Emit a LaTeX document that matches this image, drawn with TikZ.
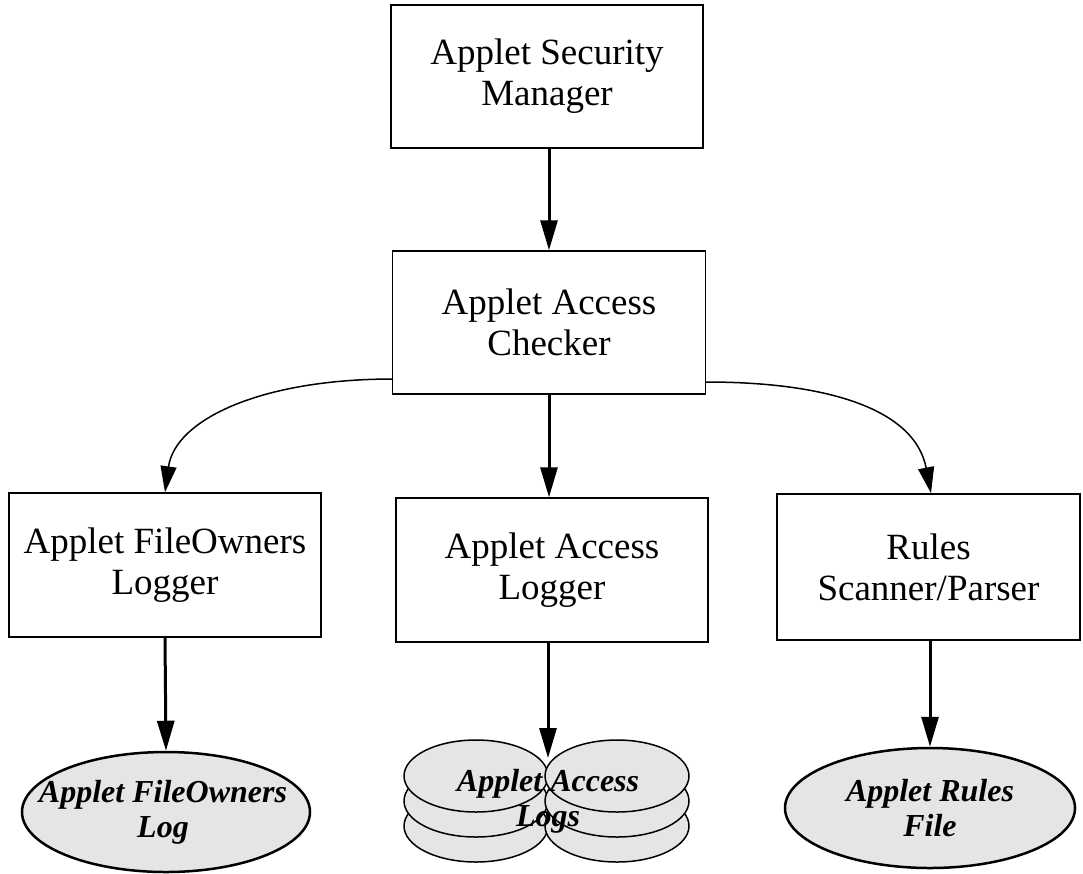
\documentclass[tikz,border=0pt]{standalone}
\usepackage{fontspec}
\setmainfont{Liberation Serif}
\usetikzlibrary{arrows.meta,shapes.geometric}

\tikzset{
  box/.style={draw, line width=1.5pt, rectangle, align=center, inner sep=0pt,
    font={\fontsize{37}{41}\selectfont}},
  store/.style={draw, line width=2.5pt, ellipse, fill=black!10, inner sep=0pt},
  storelabel/.style={align=center, inner sep=0pt,
    font={\fontsize{32}{35}\selectfont\bfseries\itshape}},
  disk/.style={draw, line width=1.5pt, fill=black!10},
  bigarrow/.style={line width=3pt, -{Triangle[length=30pt,width=17pt]}},
  bendarrow/.style={line width=1.5pt, -{Triangle[length=26pt,width=16pt]}}
}

\begin{document}
\begin{tikzpicture}[x=1pt, y=-1pt]
  \useasboundingbox (0,0) rectangle (1083,873);

  % component boxes
  \node[box, minimum width=312pt, minimum height=143pt] (sec) at (547,76.5) {Applet Security\\Manager};
  \node[box, minimum width=313pt, minimum height=143pt] (chk) at (549,322.5) {Applet Access\\Checker};
  \node[box, minimum width=312pt, minimum height=144pt] (fol) at (165,565) {Applet FileOwners\\Logger};
  \node[box, minimum width=312pt, minimum height=144pt] (acl) at (552,570) {Applet Access\\Logger};
  \node[box, minimum width=303pt, minimum height=146pt] (rsp) at (928.5,567) {Rules\\Scanner/Parser};

  % data stores
  \node[store, minimum width=288pt, minimum height=120pt] (folog) at (166,812) {};
  \node[storelabel] (fologtext) at (163,812) {Applet FileOwners\\Log};
  \node[store, minimum width=290pt, minimum height=120pt] (rules) at (930,808) {};
  \node[storelabel] (rulestext) at (930,808) {Applet Rules\\File};

  % stacked disks for the access logs
  \foreach \cx in {476,617} {
    \foreach \cy in {826,801,776} {
      \draw[disk] (\cx,\cy) ellipse [x radius=72pt, y radius=36pt];
    }
  }
  \coordinate (logs) at (548,758);
  \node[storelabel] (logtext) at (548,801) {Applet Access\\Logs};

  % connectors
  \coordinate (chkW) at (393,379);
  \coordinate (chkE) at (706,382);
  \draw[bigarrow] (sec.south -| chk.north) -- (chk.north);
  \draw[bigarrow] (chk.south) -- (acl.north -| chk.south);
  \draw[bendarrow] (chkW) .. controls (260,379) and (175,420) .. (fol.north);
  \draw[bendarrow] (chkE) .. controls (830,382) and (915,410) .. (rsp.north -| 931,0);
  \draw[bigarrow] (fol.south) -- (folog.north);
  \draw[bigarrow] (acl.south -| logs) -- (logs);
  \draw[bigarrow] (rsp.south -| rules.north) -- (rules.north);
\end{tikzpicture}
\end{document}
